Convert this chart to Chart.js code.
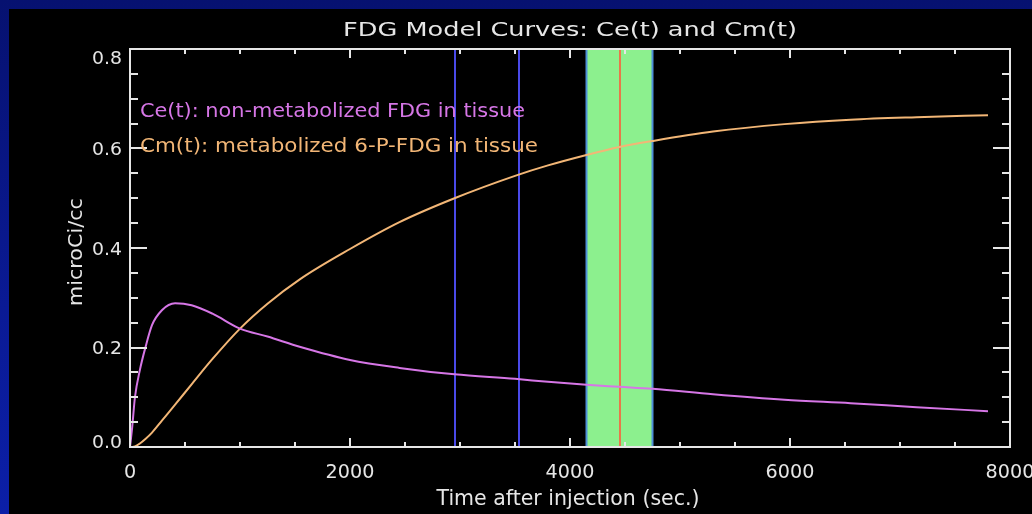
<!DOCTYPE html>
<html>
<head>
<meta charset="utf-8">
<title>FDG Model Curves</title>
<script src="https://cdn.jsdelivr.net/npm/chart.js@4.4.1/dist/chart.umd.min.js"></script>
<style>
  html, body { margin: 0; padding: 0; }
  body {
    width: 1032px; height: 514px; overflow: hidden; position: relative;
    background: linear-gradient(180deg, #061170 0%, #0a1a95 60%, #0b1fa8 100%);
  }
  #c { position: absolute; left: 9px; top: 9px; background: #000; }
</style>
</head>
<body>
<canvas id="c" width="1023" height="505"></canvas>
<script>
// Sample times (sec.) and tissue concentrations (microCi/cc)
const timeSec  = [0, 20, 45, 90, 140, 200, 290, 410, 560, 750, 1000, 1250, 1550, 2000, 2450, 2950, 3500, 3800, 4150, 4450, 4750, 5300, 5950, 6550, 7150, 7800];
const ceValues = [0, 0.04, 0.10, 0.155, 0.20, 0.245, 0.275, 0.289, 0.285, 0.268, 0.238, 0.222, 0.201, 0.175, 0.159, 0.146, 0.137, 0.131, 0.125, 0.121, 0.117, 0.106, 0.095, 0.088, 0.080, 0.072];
const cmValues = [0, 0, 0.001, 0.007, 0.016, 0.029, 0.053, 0.085, 0.126, 0.177, 0.238, 0.288, 0.338, 0.398, 0.452, 0.500, 0.545, 0.566, 0.587, 0.603, 0.615, 0.634, 0.649, 0.658, 0.663, 0.667];

// Acquisition markers on the time axis
const markerTimes = [2950, 3540];
const frameWindow = [4150, 4750];
const frameMid    = [4450];

// Axis ticks
const xTickValues = [0, 2000, 4000, 6000, 8000];
const xTickLabels = ['0', '2000', '4000', '6000', '8000'];
const yTickValues = [0, 0.2, 0.4, 0.6, 0.8];
const yTickLabels = ['0.0', '0.2', '0.4', '0.6', '0.8'];

const seriesNames = ['Ce(t): non-metabolized FDG in tissue', 'Cm(t): metabolized 6-P-FDG in tissue'];
const titleText = 'FDG Model Curves: Ce(t) and Cm(t)';
const xTitle = 'Time after injection (sec.)';
const yTitle = 'microCi/cc';

const CE_COLOR = '#d676e6';
const CM_COLOR = '#f2b676';
const AXIS_COLOR = '#e6e6e6';
const FONT = '"DejaVu Sans"';

function toPoints(xs, ys) { return xs.map((x, i) => ({ x: x, y: ys[i] })); }

// Text squeezed/stretched horizontally to a given width
function drawFitted(ctx, text, x, baseline, size, width, color, align) {
  ctx.save();
  ctx.font = size + 'px ' + FONT;
  const w = ctx.measureText(text).width;
  ctx.translate(x, baseline);
  ctx.scale(width / w, 1);
  ctx.textAlign = align;
  ctx.textBaseline = 'alphabetic';
  ctx.fillStyle = color;
  ctx.fillText(text, 0, 0);
  ctx.restore();
}

const markers = {
  id: 'markers',
  beforeDatasetsDraw(chart) {
    const { ctx, chartArea: a, scales: { x } } = chart;
    ctx.save();
    const x0 = x.getPixelForValue(frameWindow[0]);
    const x1 = x.getPixelForValue(frameWindow[1]);
    ctx.fillStyle = '#8cf08e';
    ctx.fillRect(x0, a.top, x1 - x0, a.bottom - a.top);
    ctx.strokeStyle = '#4f8fd8';
    ctx.lineWidth = 2;
    [x0, x1].forEach(px => { ctx.beginPath(); ctx.moveTo(px, a.top); ctx.lineTo(px, a.bottom); ctx.stroke(); });
    ctx.strokeStyle = '#4a4ae8';
    markerTimes.forEach(t => {
      const px = Math.round(x.getPixelForValue(t));
      ctx.beginPath(); ctx.moveTo(px, a.top); ctx.lineTo(px, a.bottom); ctx.stroke();
    });
    ctx.strokeStyle = '#e8784a';
    frameMid.forEach(t => {
      const px = Math.round(x.getPixelForValue(t));
      ctx.beginPath(); ctx.moveTo(px, a.top); ctx.lineTo(px, a.bottom); ctx.stroke();
    });
    ctx.restore();
  }
};

const frame = {
  id: 'frame',
  afterDatasetsDraw(chart) {
    const { ctx, chartArea: a, scales: { x, y } } = chart;
    ctx.save();
    ctx.strokeStyle = AXIS_COLOR;
    ctx.lineWidth = 2;
    ctx.strokeRect(a.left, a.top, a.right - a.left, a.bottom - a.top);

    // inward ticks on all four sides
    ctx.lineWidth = 2;
    for (let v = 0; v <= 8000; v += 500) {
      const px = Math.round(x.getPixelForValue(v));
      const len = (v % 2000 === 0) ? 9 : 5;
      ctx.beginPath();
      ctx.moveTo(px, a.bottom); ctx.lineTo(px, a.bottom - len);
      ctx.moveTo(px, a.top); ctx.lineTo(px, a.top + len);
      ctx.stroke();
    }
    for (let k = 0; k <= 16; k++) {
      const v = k * 0.05;
      const py = Math.round(y.getPixelForValue(v));
      const len = (k % 4 === 0) ? 17 : 8;
      ctx.beginPath();
      ctx.moveTo(a.left, py); ctx.lineTo(a.left + len, py);
      ctx.moveTo(a.right, py); ctx.lineTo(a.right - len, py);
      ctx.stroke();
    }

    // tick labels
    xTickValues.forEach((v, i) => {
      const px = x.getPixelForValue(v);
      drawFitted(ctx, xTickLabels[i], px, a.bottom + 31, 19, 12.2 * xTickLabels[i].length, AXIS_COLOR, 'center');
    });
    yTickValues.forEach((v, i) => {
      let py = y.getPixelForValue(v);
      py = Math.min(Math.max(py, a.top + 8), a.bottom - 6);
      drawFitted(ctx, yTickLabels[i], a.left - 8, py + 6.5, 18, 30, AXIS_COLOR, 'right');
    });

    // titles
    drawFitted(ctx, titleText, (a.left + a.right) / 2, 27, 19, 454, AXIS_COLOR, 'center');
    drawFitted(ctx, xTitle, 559, 496, 21, 263, AXIS_COLOR, 'center');
    ctx.save();
    ctx.translate(73, 243);
    ctx.rotate(-Math.PI / 2);
    drawFitted(ctx, yTitle, 0, 0, 19, 108, AXIS_COLOR, 'center');
    ctx.restore();

    // series labels
    drawFitted(ctx, seriesNames[0], 131, 108, 20, 385, CE_COLOR, 'left');
    drawFitted(ctx, seriesNames[1], 131, 143, 20, 398, CM_COLOR, 'left');
    ctx.restore();
  }
};

new Chart(document.getElementById('c'), {
  type: 'line',
  data: {
    datasets: [
      { label: seriesNames[0], data: toPoints(timeSec, ceValues), borderColor: CE_COLOR, borderWidth: 2, pointRadius: 0, cubicInterpolationMode: 'monotone', fill: false },
      { label: seriesNames[1], data: toPoints(timeSec, cmValues), borderColor: CM_COLOR, borderWidth: 2, pointRadius: 0, cubicInterpolationMode: 'monotone', fill: false }
    ]
  },
  options: {
    responsive: false,
    animation: false,
    devicePixelRatio: 1,
    layout: { padding: { left: 121, top: 40, right: 22, bottom: 67 } },
    scales: {
      x: { type: 'linear', min: 0, max: 8000, display: false },
      y: { type: 'linear', min: 0, max: 0.8, display: false }
    },
    plugins: { legend: { display: false }, tooltip: { enabled: false } }
  },
  plugins: [markers, frame]
});
</script>
</body>
</html>
